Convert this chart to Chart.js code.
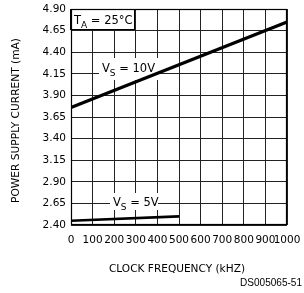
<!DOCTYPE html>
<html><head><meta charset="utf-8">
<script src="https://cdn.jsdelivr.net/npm/chart.js@4"></script>
<style>html,body{margin:0;padding:0;background:#fff}#w{width:304px;height:293px}</style>
</head><body><div id="w"><canvas id="c" width="304" height="293"></canvas></div>
<script>
const freq10 = [0, 1000];
const current10 = [3.76, 4.75];
const freq5 = [0, 500];
const current5 = [2.45, 2.50];
const xTicks = [0,100,200,300,400,500,600,700,800,900,1000];
const yTicks = [2.40,2.65,2.90,3.15,3.40,3.65,3.90,4.15,4.40,4.65,4.90];
const yTitle = 'POWER SUPPLY CURRENT (mA)';
const xTitle = 'CLOCK FREQUENCY (kHZ)';
const docId = 'DS005065-51';
const tempLabel = ['T','A',' = 25°C'];
const vs10Label = ['V','S',' = 10V'];
const vs5Label = ['V','S',' = 5V'];

const F = '"DejaVu Sans", sans-serif';
function fitText(ctx, txt, x, y, w, font, align){
  ctx.save(); ctx.font = font; ctx.textBaseline='middle';
  const m = ctx.measureText(txt).width; const s = w/m;
  let x0 = align==='right'? x - w : (align==='center'? x - w/2 : x);
  ctx.translate(x0, y); ctx.scale(s,1); ctx.textAlign='left'; ctx.fillText(txt,0,0); ctx.restore();
}
function subLabel(ctx, parts, x, y){
  ctx.save(); ctx.fillStyle='#000'; ctx.textBaseline='alphabetic'; ctx.textAlign='left';
  ctx.font='11.5px '+F; ctx.fillText(parts[0], x, y); let w = ctx.measureText(parts[0]).width;
  ctx.font='9px '+F; ctx.fillText(parts[1], x+w, y+3.5); w += ctx.measureText(parts[1]).width;
  ctx.font='11.5px '+F; ctx.fillText(parts[2], x+w, y);
  ctx.restore();
}
const deco = {
  id:'deco',
  beforeDatasetsDraw(chart){
    const ctx = chart.ctx;
    ctx.save(); ctx.fillStyle='#fff';
    ctx.fillRect(99,58,60,22);
    ctx.fillRect(110,193,48,17);
    ctx.fillStyle='#fff'; ctx.fillRect(71,9,64,21);
    ctx.strokeStyle='#000'; ctx.lineWidth=1; ctx.strokeRect(70.5,9.5,64,20);
    ctx.restore();
  },
  afterDatasetsDraw(chart){
    const ctx = chart.ctx; const a = chart.chartArea;
    ctx.save(); ctx.strokeStyle='#000'; ctx.lineWidth=1.2;
    ctx.strokeRect(a.left+0.5, a.top+0.5, a.right-a.left-1, a.bottom-a.top-1);
    ctx.restore();
    subLabel(ctx, tempLabel, 74, 24);
    subLabel(ctx, vs10Label, 102, 72);
    subLabel(ctx, vs5Label, 113, 206);
    ctx.save(); ctx.fillStyle='#000';
    ctx.translate(16.5,120.5); ctx.rotate(-Math.PI/2);
    fitText(ctx, yTitle, 0, 0, 165, '11px '+F, 'center');
    ctx.restore();
    ctx.save(); ctx.fillStyle='#000';
    fitText(ctx, xTitle, 177, 269, 136, '11px '+F, 'center');
    fitText(ctx, docId, 302, 283.5, 62, '10.5px "Liberation Sans", Arial, sans-serif', 'right');
    ctx.restore();
  }
};
new Chart(document.getElementById('c'), {
  type:'scatter',
  data:{datasets:[
    {data: freq10.map((x,i)=>({x, y: current10[i]})), showLine:true, borderColor:'#000', borderWidth:3.2, pointRadius:0},
    {data: freq5.map((x,i)=>({x, y: current5[i]})), showLine:true, borderColor:'#000', borderWidth:2.6, pointRadius:0}
  ]},
  options:{
    responsive:false, animation:false, devicePixelRatio:1,
    layout:{padding:{left:0, top:9, right:17, bottom:0}},
    plugins:{legend:{display:false}, tooltip:{enabled:false}},
    scales:{
      x:{type:'linear', min:0, max:1000,
        afterBuildTicks(s){ s.ticks = xTicks.map(v=>({value:v})); },
        afterFit(s){ s.height = 68; s.paddingLeft = 0; s.paddingRight = 0; },
        border:{display:false},
        grid:{color:'#222', lineWidth:1, drawTicks:false},
        ticks:{autoSkip:false, maxRotation:0, minRotation:0, padding:9, color:'#000', font:{family:'DejaVu Sans', size:10.5}, callback:v=>String(v)}
      },
      y:{type:'linear', min:2.40, max:4.90,
        afterBuildTicks(s){ s.ticks = yTicks.map(v=>({value:v})); },
        afterFit(s){ s.width = 71; s.paddingTop = 0; s.paddingBottom = 0; },
        border:{display:false},
        grid:{color:'#222', lineWidth:1, drawTicks:false},
        ticks:{autoSkip:false, padding:5, color:'#000', font:{family:'DejaVu Sans', size:10.5}, callback:v=>Number(v).toFixed(2)}
      }
    }
  },
  plugins:[deco]
});
</script></body></html>
